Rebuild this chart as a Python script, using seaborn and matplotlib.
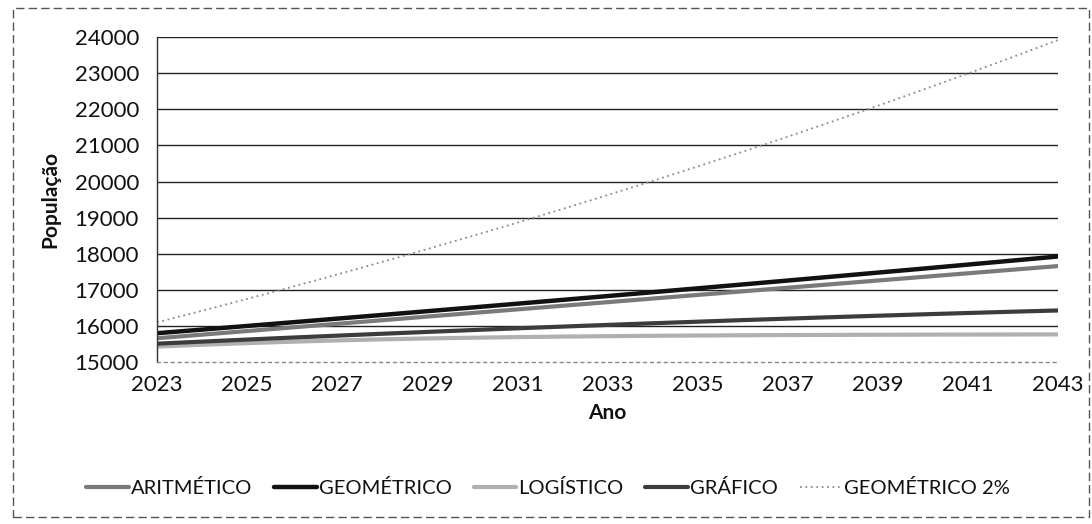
import matplotlib
matplotlib.use("Agg")
import matplotlib.pyplot as plt
import seaborn as sns
import pandas as pd
from matplotlib.patches import Rectangle

anos = list(range(2023, 2044))

aritmetico = [15660, 15760, 15860, 15960, 16060, 16160, 16260, 16360, 16460, 16560,
              16660, 16760, 16860, 16960, 17060, 17160, 17260, 17360, 17460, 17560, 17660]
geometrico = [15800, 15900, 16001, 16102, 16204, 16306, 16410, 16513, 16618, 16723,
              16829, 16936, 17043, 17151, 17259, 17369, 17479, 17589, 17701, 17813, 17926]
logistico = [15430, 15480, 15525, 15565, 15600, 15630, 15655, 15675, 15692, 15706,
             15718, 15728, 15736, 15743, 15749, 15753, 15757, 15760, 15763, 15765, 15767]
grafico = [15510, 15567, 15624, 15679, 15732, 15785, 15836, 15887, 15936, 15983,
           16030, 16075, 16119, 16163, 16204, 16245, 16284, 16323, 16360, 16396, 16430]
geometrico2 = [16100, 16422, 16750, 17085, 17427, 17776, 18131, 18494, 18864, 19241,
               19626, 20018, 20419, 20827, 21244, 21669, 22102, 22544, 22995, 23455, 23924]

series_nomes = ["ARITMÉTICO", "GEOMÉTRICO", "LOGÍSTICO", "GRÁFICO", "GEOMÉTRICO 2%"]
series_valores = [aritmetico, geometrico, logistico, grafico, geometrico2]
x_ticks = list(range(2023, 2044, 2))
y_ticks = list(range(15000, 25000, 1000))

sns.set_theme(style="white")
plt.rcParams["font.family"] = ["Lato", "DejaVu Sans"]

fig = plt.figure(figsize=(10.92, 5.24), dpi=100)
ax = fig.add_axes([0.1438, 0.309, 0.8252, 0.62])

estilos = {
    "ARITMÉTICO": dict(color="#7a7a7a", lw=3.0, ls="-"),
    "GEOMÉTRICO": dict(color="#111111", lw=3.2, ls="-"),
    "LOGÍSTICO": dict(color="#b0b0b0", lw=3.0, ls="-"),
    "GRÁFICO": dict(color="#3c3c3c", lw=3.0, ls="-"),
    "GEOMÉTRICO 2%": dict(color="#8a8a8a", lw=1.3, ls=(0, (1, 2))),
}

for nome, vals in zip(series_nomes, series_valores):
    df = pd.DataFrame({"Ano": anos, "Pop": vals})
    st = estilos[nome]
    sns.lineplot(data=df, x="Ano", y="Pop", ax=ax, label=nome, color=st["color"],
                 linewidth=st["lw"], linestyle=st["ls"])

for y in y_ticks[1:]:
    ax.axhline(y, color="#222222", lw=1.0, zorder=0)

ax.set_xlim(2023, 2043)
ax.set_ylim(15000, 24000)
ax.set_xticks(x_ticks)
ax.set_yticks(y_ticks)
ax.tick_params(axis="both", labelsize=16, colors="#111111", length=4, width=0.8, direction="out")
ax.tick_params(axis="x", pad=5)
ax.tick_params(axis="y", pad=9)
for s in ["top", "right"]:
    ax.spines[s].set_visible(False)
ax.spines["left"].set_color("#333333")
ax.spines["left"].set_linewidth(1.0)
ax.spines["bottom"].set_color("#888888")
ax.spines["bottom"].set_linestyle((0, (2, 3)))
ax.spines["bottom"].set_linewidth(1.0)

ax.set_xlabel("Ano", fontsize=15, fontweight="bold", labelpad=6, color="#111111")
ax.set_ylabel("População", fontsize=15, fontweight="bold", labelpad=10, color="#111111")

leg = ax.legend(loc="center", bbox_to_anchor=(0.502, 0.069), bbox_transform=fig.transFigure,
                ncol=5, frameon=False, fontsize=14.5, handlelength=2.1, handletextpad=0.1,
                columnspacing=1.1)
for t in leg.get_texts():
    t.set_color("#111111")

fig.patches.append(Rectangle((0.012, 0.014), 0.985, 0.97, transform=fig.transFigure,
                             fill=False, edgecolor="#555555", lw=1.0, ls=(0, (6, 3))))

fig.savefig("out.png", dpi=100)
